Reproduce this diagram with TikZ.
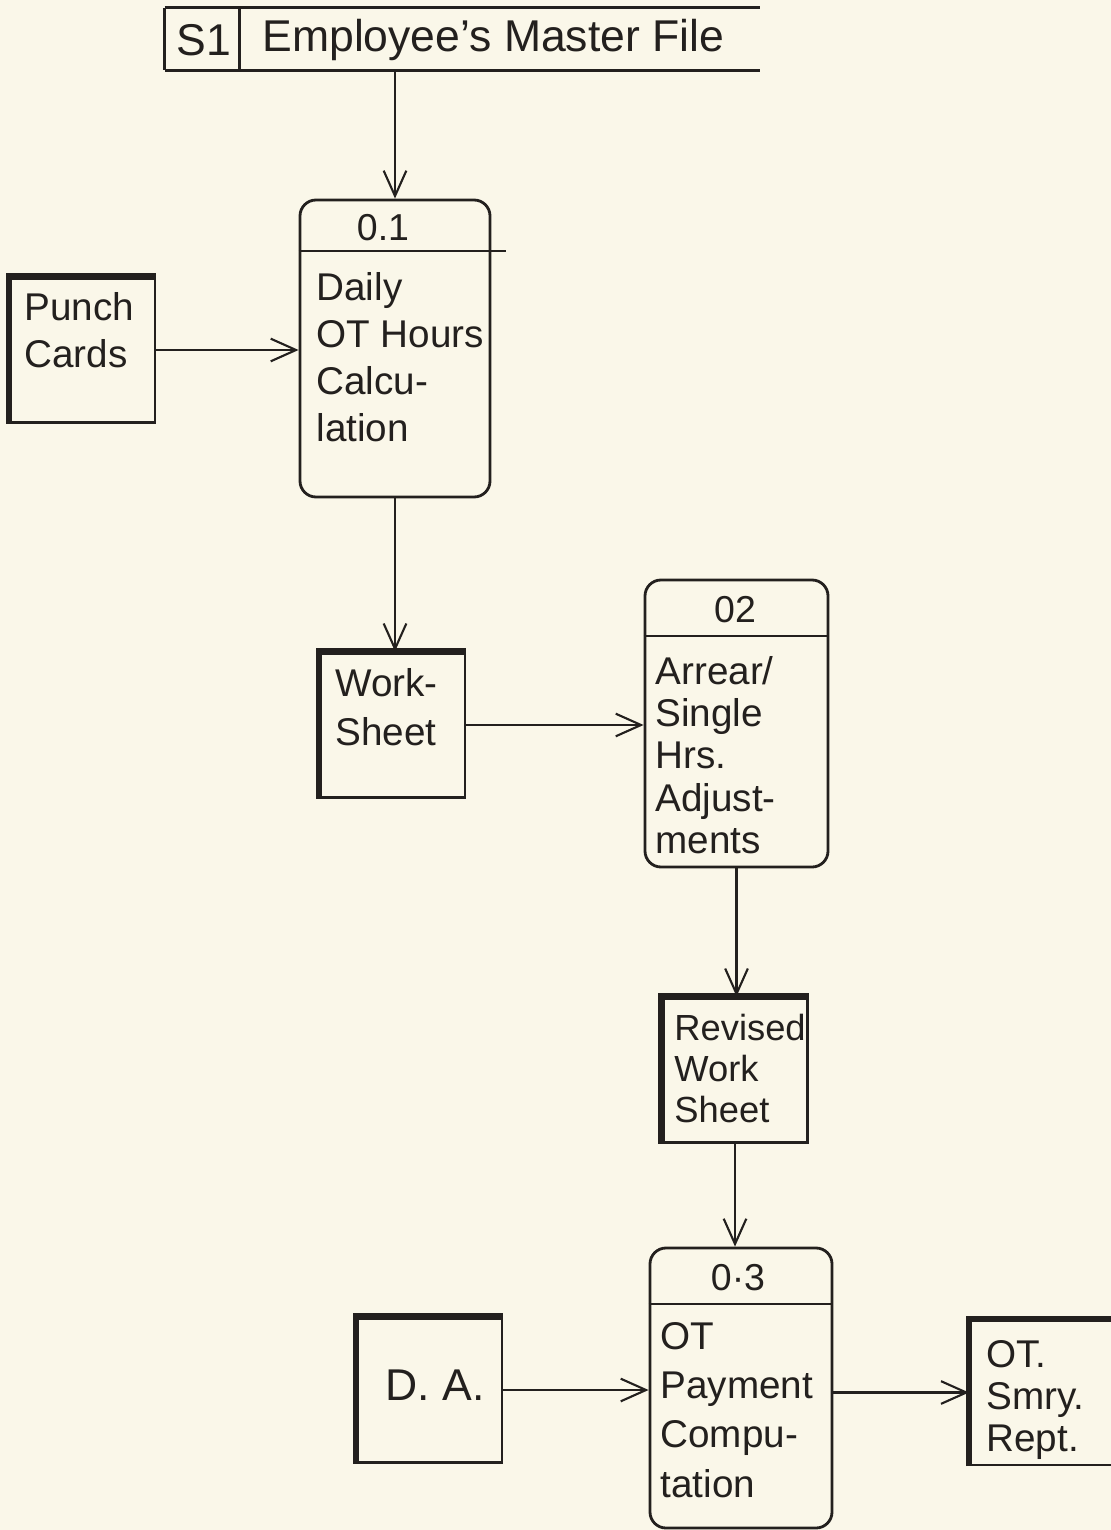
\documentclass[tikz,border=0pt]{standalone}
\usepackage{fontspec}
\setmainfont{Liberation Sans}
\usetikzlibrary{arrows.meta,calc,positioning}
\definecolor{paper}{RGB}{250,247,233}
\definecolor{ink}{RGB}{35,32,30}

\begin{document}
\begin{tikzpicture}[
  x=0.015cm, y=-0.015cm,
  every node/.style={text=ink},
  proc/.style={draw=ink, line width=1.2pt, rounded corners=2.4mm, inner sep=0pt},
  ent/.style={draw=ink, line width=0.9pt, minimum width=2.175cm, minimum height=2.175cm, inner sep=0pt},
  lbl/.style={font=\fontsize{16.5}{20}\selectfont, align=left, anchor=north west, inner sep=0pt},
  num/.style={font=\fontsize{16}{19}\selectfont, inner sep=0pt},
  big/.style={font=\fontsize{19}{23}\selectfont, inner sep=0pt},
  arr/.style={-{Straight Barb[length=3.8mm,width=3.4mm]}, line width=0.9pt, draw=ink}
]
\useasboundingbox[fill=paper] (0,0) rectangle (1111,1530);

\node[minimum width=8.925cm, minimum height=0.93cm, inner sep=0pt] (s1) at (462.5,39) {};
\draw[ink, line width=1pt] (s1.north west) -- (s1.north east) (s1.south west) -- (s1.south east)
  (s1.north west) -- (s1.south west) ($(s1.north west)+(75,0)$) -- ($(s1.south west)+(75,0)$);
\node[big] (s1id) at (204,40) {S1};
\node[big, anchor=west] (s1name) at (262,40) {Employee's Master File};

\node[proc, minimum width=2.85cm, minimum height=4.455cm] (p1) at (395,348.5) {};
\node[proc, minimum width=2.745cm, minimum height=4.305cm] (p2) at (736.5,723.5) {};
\node[proc, minimum width=2.73cm, minimum height=4.2cm] (p3) at (741,1388) {};
\draw[ink, line width=0.9pt] ($(p1.north west)+(0,52)$) -- ($(p1.north east)+(15,52)$);
\draw[ink, line width=0.9pt] ($(p2.north west)+(0,57)$) -- ($(p2.north east)+(0,57)$);
\draw[ink, line width=0.9pt] ($(p3.north west)+(0,57)$) -- ($(p3.north east)+(0,57)$);
\node[num] (p1id) at (383,228) {0.1};
\node[num] (p2id) at (735,610) {02};
\node[num] (p3id) at (738,1278) {0·3};
\node[lbl] (p1txt) at (316,272) {Daily\\OT Hours\\Calcu-\\lation};
\node[lbl, font=\fontsize{16.5}{18}\selectfont] (p2txt) at (655,656) {Arrear/\\Single\\Hrs.\\Adjust-\\ments};
\node[lbl, font=\fontsize{16.5}{21}\selectfont] (p3txt) at (660,1322) {OT\\Payment\\Compu-\\tation};

\node[ent] (punch) at (82.5,350) {};
\node[ent] (ws) at (392.5,725) {};
\node[ent] (rws) at (735,1070) {};
\node[ent] (da) at (429.5,1390) {};
\node[ent] (ot) at (1042.5,1392.5) {};
\foreach \n in {punch,ws,rws,da,ot}
  \draw[ink, line width=2.8pt] (\n.south west) -- (\n.north west) -- (\n.north east);
\node[lbl] (punchtxt) at (24,292) {Punch\\Cards};
\node[lbl, font=\fontsize{16.5}{21}\selectfont] (wstxt) at (335,668) {Work-\\Sheet};
\node[lbl, font=\fontsize{15.5}{17.5}\selectfont] (rwstxt) at (674,1014) {Revised\\Work\\Sheet};
\node[big] (datxt) at (435,1385) {D. A.};
\node[lbl, font=\fontsize{16.5}{18}\selectfont] (ottxt) at (986,1340) {OT.\\Smry.\\Rept.};

\draw[arr] (s1.south -| p1.north) -- (p1.north);
\draw[arr] (punch.east) -- (punch.east -| p1.west);
\draw[arr] (p1.south) -- (p1.south |- ws.north);
\draw[arr] (ws.east) -- (ws.east -| p2.west);
\draw[arr] (p2.south) -- (p2.south |- rws.north);
\draw[arr] (rws.south) -- (rws.south |- p3.north);
\draw[arr] (da.east) -- (da.east -| p3.west);
\draw[arr] (p3.east |- ot.west) -- (ot.west);
\end{tikzpicture}
\end{document}
